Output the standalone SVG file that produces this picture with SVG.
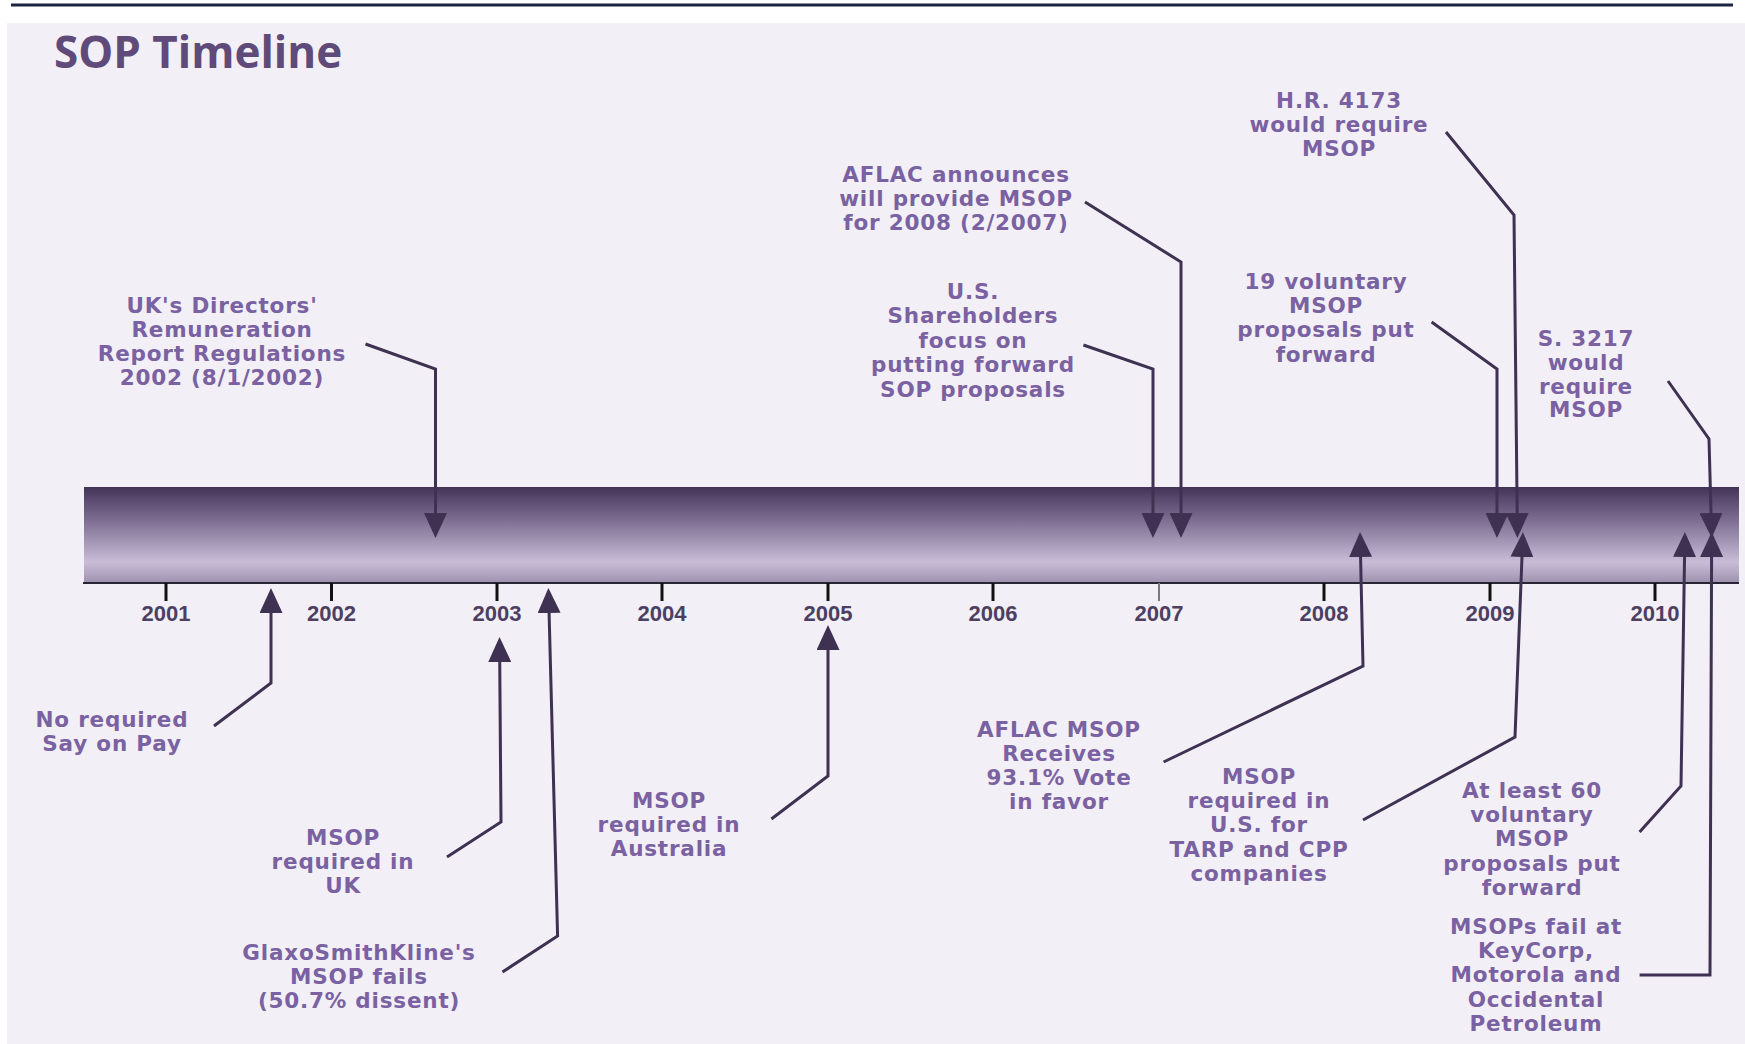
<svg xmlns="http://www.w3.org/2000/svg" width="1745" height="1044" viewBox="0 0 1745 1044">
<defs>
<style>
.lbl{font-family:"DejaVu Sans",Verdana,sans-serif;font-weight:bold;font-size:21.5px;letter-spacing:0.8px;fill:#7a61a1;text-anchor:middle}
.yr{font-family:"Liberation Sans",Arial,sans-serif;font-weight:bold;font-size:22px;fill:#4d3f62;text-anchor:middle}
.con{fill:none;stroke:#3e3152;stroke-width:3;stroke-linejoin:miter}
.tick{stroke:#111;stroke-width:3}
</style>
<linearGradient id="barg" x1="0" y1="0" x2="0" y2="1">
<stop offset="0" stop-color="#423356"/>
<stop offset="0.1" stop-color="#54456a"/>
<stop offset="0.3" stop-color="#75668a"/>
<stop offset="0.5" stop-color="#978aa9"/>
<stop offset="0.7" stop-color="#bbaecb"/>
<stop offset="0.78" stop-color="#c9bcd7"/>
<stop offset="0.9" stop-color="#b3a6c2"/>
<stop offset="1" stop-color="#9d90ad"/>
</linearGradient>
<marker id="ah" markerUnits="userSpaceOnUse" markerWidth="25" markerHeight="23" refX="3" refY="11.5" orient="auto" viewBox="0 0 25 23">
<path d="M0,0 L25,11.5 L0,23 z" fill="#3e3152"/>
</marker>
</defs>
<rect x="0" y="0" width="1745" height="1044" fill="#ffffff"/>
<line x1="11" y1="5" x2="1733" y2="5" stroke="#1c2340" stroke-width="3"/>
<rect x="7" y="23" width="1738" height="1021" fill="#f2eff6"/>
<text x="54" y="68" font-family="'Open Sans','Noto Sans',sans-serif" font-weight="700" font-size="44" fill="#5f4a7a">SOP Timeline</text>

<g id="axis">
<rect x="84" y="487" width="1655" height="96" fill="url(#barg)"/>
<line x1="83" y1="583" x2="1739" y2="583" stroke="#2a2533" stroke-width="2"/>
<line class="tick" x1="166" y1="583" x2="166" y2="601"/>
<line class="tick" x1="331.5" y1="583" x2="331.5" y2="601"/>
<line class="tick" x1="497" y1="583" x2="497" y2="601"/>
<line class="tick" x1="662" y1="583" x2="662" y2="601"/>
<line class="tick" x1="828" y1="583" x2="828" y2="601"/>
<line class="tick" x1="993" y1="583" x2="993" y2="601"/>
<line x1="1159" y1="583" x2="1159" y2="601" stroke="#7a7a7a" stroke-width="2"/>
<line class="tick" x1="1324" y1="583" x2="1324" y2="601"/>
<line class="tick" x1="1490" y1="583" x2="1490" y2="601"/>
<line class="tick" x1="1655" y1="583" x2="1655" y2="601"/>
<text class="yr" x="166" y="621">2001</text>
<text class="yr" x="331.5" y="621">2002</text>
<text class="yr" x="497" y="621">2003</text>
<text class="yr" x="662" y="621">2004</text>
<text class="yr" x="828" y="621">2005</text>
<text class="yr" x="993" y="621">2006</text>
<text class="yr" x="1159" y="621">2007</text>
<text class="yr" x="1324" y="621">2008</text>
<text class="yr" x="1490" y="621">2009</text>
<text class="yr" x="1655" y="621">2010</text>
</g>

<g id="connectors">
<polyline class="con" marker-end="url(#ah)" points="365.5,344 435.5,369 435.5,516"/>
<polyline class="con" marker-end="url(#ah)" points="214,726 271,683 271,610"/>
<polyline class="con" marker-end="url(#ah)" points="447,857 501,822 499.7,659"/>
<polyline class="con" marker-end="url(#ah)" points="502.5,972 557.6,936 549,610"/>
<polyline class="con" marker-end="url(#ah)" points="771.4,819 828,776 828,647"/>
<polyline class="con" marker-end="url(#ah)" points="1163.6,762 1363,666 1360.5,554"/>
<polyline class="con" marker-end="url(#ah)" points="1363,820 1515,737 1522.1,554"/>
<polyline class="con" marker-end="url(#ah)" points="1639.6,832 1681,786 1684.6,554"/>
<polyline class="con" marker-end="url(#ah)" points="1639.6,975 1710,975 1711.6,554"/>
<polyline class="con" marker-end="url(#ah)" points="1085,202 1181,262 1181,516"/>
<polyline class="con" marker-end="url(#ah)" points="1083.4,345 1153,369 1153,516"/>
<polyline class="con" marker-end="url(#ah)" points="1446,132 1514,215 1517.2,516"/>
<polyline class="con" marker-end="url(#ah)" points="1431.6,322 1497,369 1497,516"/>
<polyline class="con" marker-end="url(#ah)" points="1668,381 1709,439 1711.1,516"/>
</g>

<g id="n-uk-regs"><text class="lbl" x="222" y="313"><tspan x="222">UK's Directors'</tspan><tspan x="222" dy="24">Remuneration</tspan><tspan x="222" dy="24">Report Regulations</tspan><tspan x="222" dy="24">2002 (8/1/2002)</tspan></text></g>
<g id="n-no-sop"><text class="lbl" x="112" y="727"><tspan x="112">No required</tspan><tspan x="112" dy="24">Say on Pay</tspan></text></g>
<g id="n-msop-uk"><text class="lbl" x="343" y="845"><tspan x="343">MSOP</tspan><tspan x="343" dy="24">required in</tspan><tspan x="343" dy="24">UK</tspan></text></g>
<g id="n-gsk"><text class="lbl" x="359" y="960"><tspan x="359">GlaxoSmithKline's</tspan><tspan x="359" dy="24">MSOP fails</tspan><tspan x="359" dy="24">(50.7% dissent)</tspan></text></g>
<g id="n-australia"><text class="lbl" x="669" y="808"><tspan x="669">MSOP</tspan><tspan x="669" dy="24">required in</tspan><tspan x="669" dy="24">Australia</tspan></text></g>
<g id="n-aflac-vote"><text class="lbl" x="1059" y="737"><tspan x="1059">AFLAC MSOP</tspan><tspan x="1059" dy="24">Receives</tspan><tspan x="1059" dy="24">93.1% Vote</tspan><tspan x="1059" dy="24">in favor</tspan></text></g>
<g id="n-tarp"><text class="lbl" x="1259" y="784"><tspan x="1259">MSOP</tspan><tspan x="1259" dy="24.2">required in</tspan><tspan x="1259" dy="24.2">U.S. for</tspan><tspan x="1259" dy="24.2">TARP and CPP</tspan><tspan x="1259" dy="24.2">companies</tspan></text></g>
<g id="n-60-voluntary"><text class="lbl" x="1532" y="798"><tspan x="1532">At least 60</tspan><tspan x="1532" dy="24.2">voluntary</tspan><tspan x="1532" dy="24.2">MSOP</tspan><tspan x="1532" dy="24.2">proposals put</tspan><tspan x="1532" dy="24.2">forward</tspan></text></g>
<g id="n-msops-fail"><text class="lbl" x="1536" y="934"><tspan x="1536">MSOPs fail at</tspan><tspan x="1536" dy="24.2">KeyCorp,</tspan><tspan x="1536" dy="24.2">Motorola and</tspan><tspan x="1536" dy="24.2">Occidental</tspan><tspan x="1536" dy="24.2">Petroleum</tspan></text></g>
<g id="n-aflac-announces"><text class="lbl" x="956" y="182"><tspan x="956">AFLAC announces</tspan><tspan x="956" dy="24">will provide MSOP</tspan><tspan x="956" dy="24">for 2008 (2/2007)</tspan></text></g>
<g id="n-us-shareholders"><text class="lbl" x="973" y="299"><tspan x="973">U.S.</tspan><tspan x="973" dy="24.4">Shareholders</tspan><tspan x="973" dy="24.4">focus on</tspan><tspan x="973" dy="24.4">putting forward</tspan><tspan x="973" dy="24.4">SOP proposals</tspan></text></g>
<g id="n-hr4173"><text class="lbl" x="1339" y="108"><tspan x="1339">H.R. 4173</tspan><tspan x="1339" dy="24.2">would require</tspan><tspan x="1339" dy="24.2">MSOP</tspan></text></g>
<g id="n-19-voluntary"><text class="lbl" x="1326" y="289"><tspan x="1326">19 voluntary</tspan><tspan x="1326" dy="24.2">MSOP</tspan><tspan x="1326" dy="24.2">proposals put</tspan><tspan x="1326" dy="24.2">forward</tspan></text></g>
<g id="n-s3217"><text class="lbl" x="1586" y="346"><tspan x="1586">S. 3217</tspan><tspan x="1586" dy="23.8">would</tspan><tspan x="1586" dy="23.8">require</tspan><tspan x="1586" dy="23.8">MSOP</tspan></text></g>
</svg>
